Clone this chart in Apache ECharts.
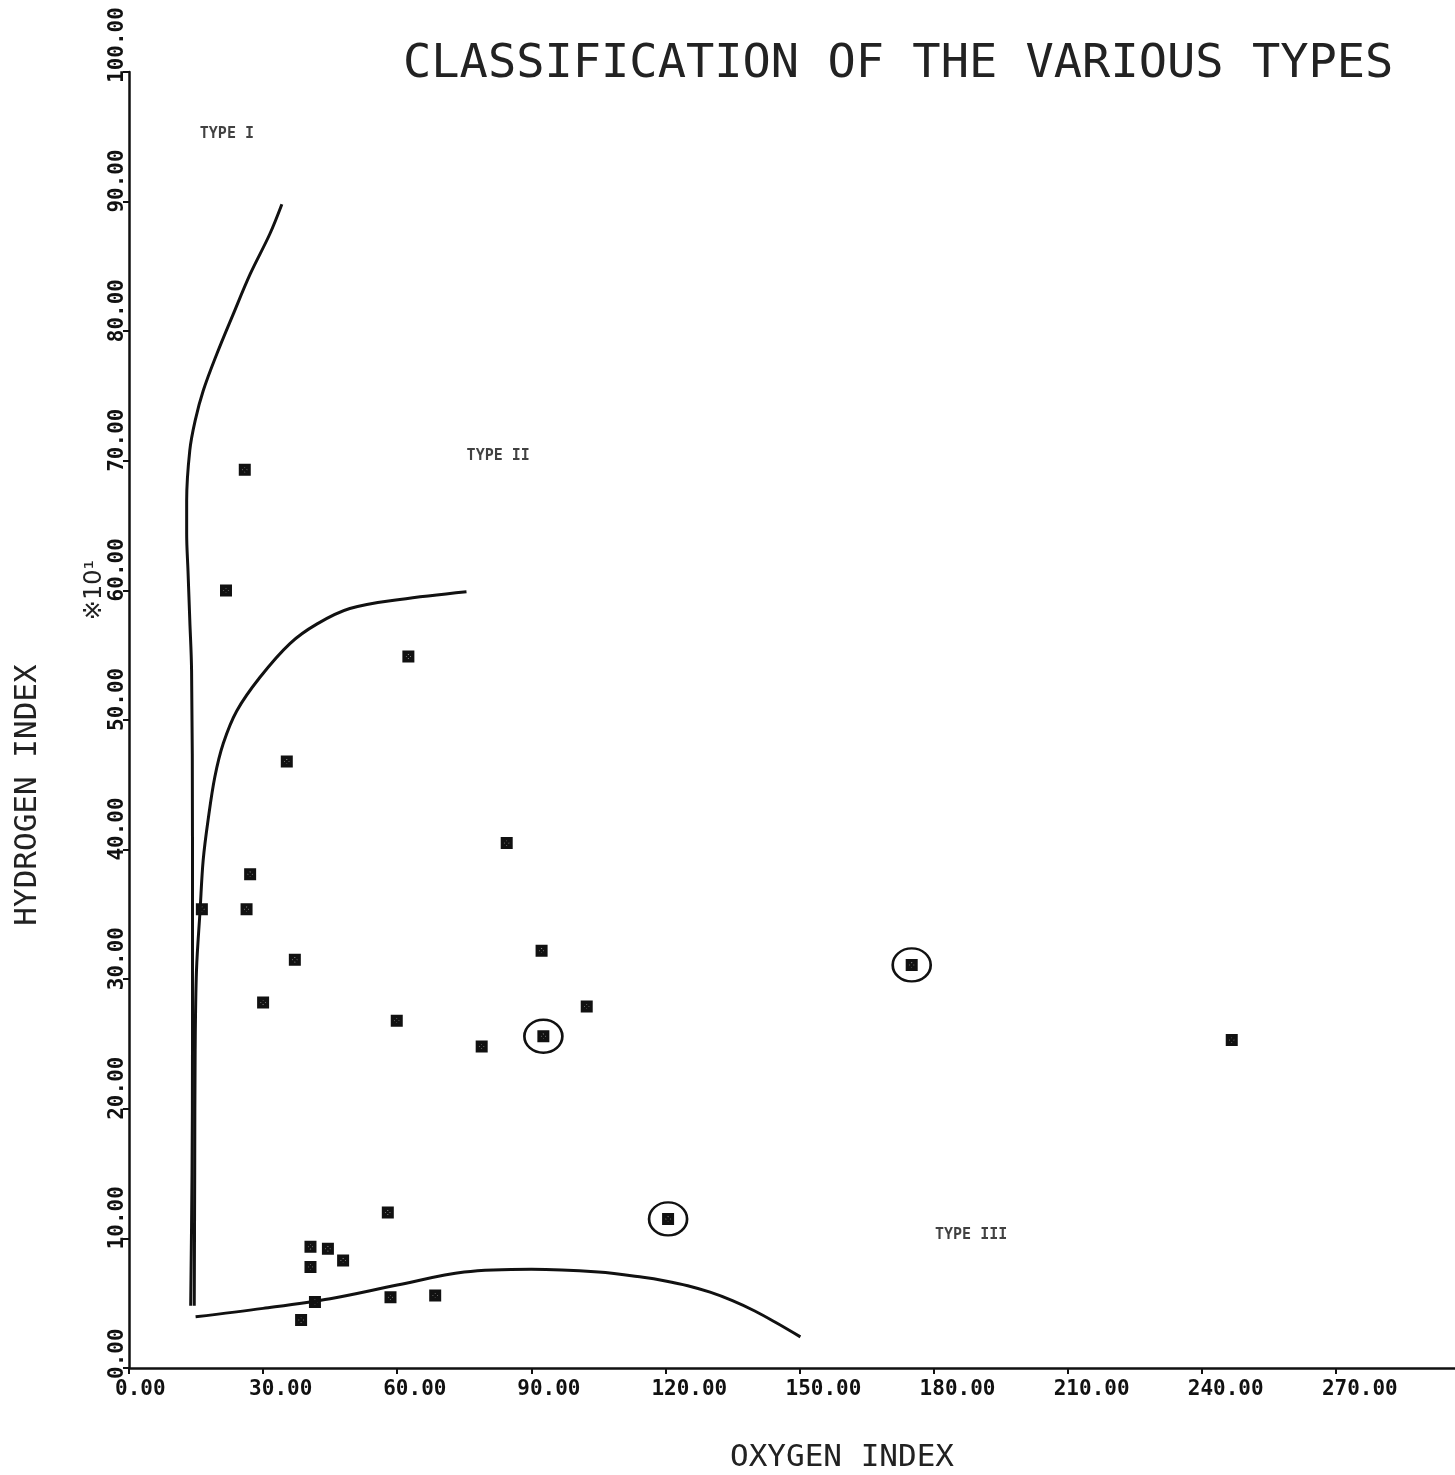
<!DOCTYPE html>
<html>
<head>
<meta charset="utf-8">
<title>Classification of the various types</title>
<script src="https://cdn.jsdelivr.net/npm/echarts@6/dist/echarts.min.js"></script>
<style>
  html, body { margin: 0; padding: 0; background: #fff; }
  #chart { width: 1455px; height: 1475px; }
</style>
</head>
<body>
<div id="chart"></div>
<script>
// samples: oxygen index (x) against hydrogen index, x10 (y)
var sampleX = [25.9, 21.7, 62.5, 35.3, 84.5, 27.1, 26.3, 16.3, 37.1, 92.3, 175.1, 30.0, 102.4, 59.9,
  92.7, 78.9, 246.7, 57.9, 120.6, 40.6, 44.5, 47.9, 40.6, 41.6, 38.5, 58.5, 68.5]
var sampleY = [69.3, 60.0, 54.9, 46.8, 40.5, 38.1, 35.4, 35.4, 31.5, 32.2, 31.1, 28.2, 27.9, 26.8,
  25.6, 24.8, 25.3, 12.0, 11.5, 9.35, 9.2, 8.3, 7.8, 5.1, 3.7, 5.45, 5.6]

// samples ringed by hand
var circledX = [92.7, 120.6, 175.1]
var circledY = [25.6, 11.5, 31.1]

// boundary curves
var typeIX = [13.8, 14.1, 14.2, 14.2, 14.0, 13.6, 13.2, 12.9, 12.9, 13.6, 14.8, 16.6, 19.6, 23.3, 27.1, 31.5, 34.2]
var typeIY = [4.8, 15, 24.5, 41, 53.8, 57.7, 61.5, 64.4, 66.9, 70.8, 73.1, 75.4, 78.2, 81.3, 84.4, 87.5, 89.8]
var typeIIX = [14.6, 14.7, 14.8, 15.1, 15.9, 16.6, 17.7, 19.2, 21.1, 24.1, 29.3, 36.0, 42.0, 49.4, 60.6, 75.5]
var typeIIY = [4.8, 15, 24.5, 30.7, 35.3, 39.2, 42.3, 45.6, 48.2, 50.7, 53.3, 55.9, 57.4, 58.6, 59.3, 59.9]
var typeIIIX = [14.9, 30, 45, 60, 75, 90, 105, 115, 120, 125, 130, 135, 140, 145, 150.2]
var typeIIIY = [3.95, 4.6, 5.35, 6.4, 7.4, 7.62, 7.4, 7.0, 6.72, 6.35, 5.85, 5.2, 4.4, 3.45, 2.4]

var typeNames = ['TYPE I', 'TYPE II', 'TYPE III']
var typeNameX = [21.9, 82.6, 188.4]
var typeNameY = [95.2, 70.4, 10.25]

var xMin = 0, xMax = 300, xStep = 30
var yMin = 0, yMax = 100, yStep = 10

function pairs(xs, ys) {
  return xs.map(function(x, i) { return [x, ys[i]] })
}

var ink = '#111'
var mono = '"DejaVu Sans Mono", monospace'
var marker = 'path://M0,0H10V3H0Z M0,7H10V10H0Z M0,0H3V10H0Z M7,0H10V10H7Z ' +
  'M1,2.5L2.5,1L9,7.5L7.5,9Z M7.5,1L9,2.5L2.5,9L1,7.5Z'

function curve(name, xs, ys) {
  return {
    name: name,
    type: 'line',
    data: pairs(xs, ys),
    smooth: 0.35,
    symbol: 'none',
    lineStyle: { color: ink, width: 3 },
    silent: true,
    z: 2
  }
}

var chart = echarts.init(document.getElementById('chart'))

chart.setOption({
  backgroundColor: '#fff',
  animation: false,
  title: {
    text: 'CLASSIFICATION OF THE VARIOUS TYPES',
    left: 398,
    top: 36,
    textStyle: { fontFamily: mono, fontSize: 47, fontWeight: 'normal', color: '#222' }
  },
  grid: { left: 129, top: 72, width: 1341, height: 1296, outerBoundsMode: 'none', containLabel: false },
  xAxis: {
    type: 'value',
    min: xMin,
    max: xMax,
    interval: xStep,
    axisLine: { lineStyle: { color: ink, width: 2.5 } },
    axisTick: { length: 6, lineStyle: { color: ink, width: 2 } },
    splitLine: { show: false },
    axisLabel: {
      margin: 11,
      align: 'left',
      padding: [0, 0, 0, -14],
      fontFamily: mono,
      fontSize: 21,
      fontWeight: 'bold',
      color: ink,
      formatter: function(v) { return v >= xMax ? '' : v.toFixed(2) }
    }
  },
  yAxis: {
    type: 'value',
    min: yMin,
    max: yMax,
    interval: yStep,
    axisLine: { lineStyle: { color: ink, width: 2.5 } },
    axisTick: { length: 6, lineStyle: { color: ink, width: 2 } },
    splitLine: { show: false },
    axisLabel: {
      rotate: 90,
      margin: 1,
      align: 'left',
      padding: [0, 0, 0, -11],
      fontFamily: mono,
      fontSize: 21,
      fontWeight: 'bold',
      color: ink,
      formatter: function(v) { return v.toFixed(2) }
    }
  },
  graphic: [
    {
      type: 'text',
      x: 842,
      y: 1458,
      style: { text: 'OXYGEN INDEX', font: '31px ' + mono, fill: '#222', textAlign: 'center', textVerticalAlign: 'middle' }
    },
    {
      type: 'text',
      x: 28,
      y: 795,
      rotation: Math.PI / 2,
      style: { text: 'HYDROGEN INDEX', font: '31px ' + mono, fill: '#222', textAlign: 'center', textVerticalAlign: 'middle' }
    },
    {
      type: 'text',
      x: 95,
      y: 590,
      rotation: Math.PI / 2,
      style: { text: '※10¹', font: '24px "DejaVu Sans", sans-serif', fill: '#222', textAlign: 'center', textVerticalAlign: 'middle' }
    }
  ],
  series: [
    curve('Type I', typeIX, typeIY),
    curve('Type II', typeIIX, typeIIY),
    curve('Type III', typeIIIX, typeIIIY),
    {
      name: 'samples',
      type: 'scatter',
      data: pairs(sampleX, sampleY),
      symbol: marker,
      symbolSize: 12,
      itemStyle: { color: ink, opacity: 1 },
      z: 3
    },
    {
      name: 'circled',
      type: 'scatter',
      data: pairs(circledX, circledY),
      symbol: 'circle',
      symbolSize: [38, 33],
      itemStyle: { color: 'transparent', borderColor: ink, borderWidth: 2.5, opacity: 1 },
      z: 4
    },
    {
      name: 'types',
      type: 'scatter',
      data: typeNames.map(function(n, i) { return { name: n, value: [typeNameX[i], typeNameY[i]] } }),
      symbol: 'circle',
      symbolSize: 1,
      itemStyle: { color: 'rgba(0,0,0,0)' },
      label: {
        show: true,
        position: 'inside',
        formatter: '{b}',
        fontFamily: mono,
        fontSize: 15,
        fontWeight: 'bold',
        color: ink
      },
      silent: true,
      z: 5
    }
  ]
})
</script>
</body>
</html>
